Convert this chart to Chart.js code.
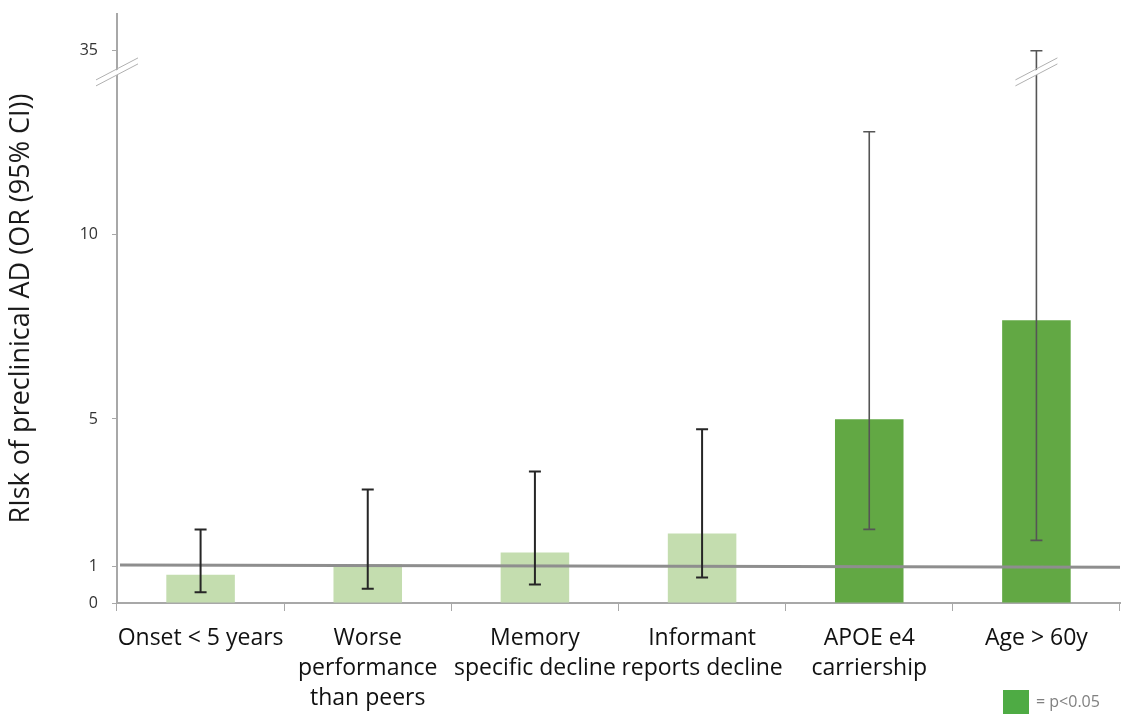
<!DOCTYPE html>
<html>
<head>
<meta charset="utf-8">
<script src="https://cdn.jsdelivr.net/npm/chart.js@4"></script>
<style>
  html, body { margin: 0; padding: 0; background: #fff; }
  #wrap { width: 1121px; height: 715px; }
</style>
</head>
<body>
<div id="wrap"><canvas id="orChart"></canvas></div>
<script>
// Data (odds ratios with 95% CI)
const categories = [
  "Onset < 5 years",
  ["Worse", "performance", "than peers"],
  ["Memory", "specific decline"],
  ["Informant", "reports decline"],
  ["APOE e4", "carriership"],
  "Age > 60y"
];
const oddsRatio = [0.77, 1.05, 1.37, 1.89, 4.99, 7.68];
const ciLow = [0.29, 0.39, 0.50, 0.69, 2.0, 1.70];
const ciHigh = [2.0, 3.08, 3.57, 4.72, 12.8, 35];
const significant = [false, false, false, false, true, true];

// y axis is broken: values above the break are drawn at the "35" tick
const tickValues = [0, 1, 5, 10, 15];
const tickLabels = ["0", "1", "5", "10", "35"];
const breakAt = 14.4;
const refLine = [1.03, 0.97]; // OR = 1 line, slightly tilted in the original

const lightGreen = "#c4ddaf";
const darkGreen = "#62a844";

function toAxis(v) {
  return v > breakAt ? 15 : v;
}

function drawBreak(ctx, x, y) {
  ctx.save();
  ctx.fillStyle = "#fff";
  ctx.beginPath();
  ctx.moveTo(x - 21, y + 8);
  ctx.lineTo(x + 21, y - 14);
  ctx.lineTo(x + 21, y - 9);
  ctx.lineTo(x - 21, y + 13);
  ctx.closePath();
  ctx.fill();
  ctx.strokeStyle = "#b0b0b0";
  ctx.lineWidth = 1;
  ctx.beginPath();
  ctx.moveTo(x - 21, y + 7);
  ctx.lineTo(x + 21, y - 15);
  ctx.moveTo(x - 21, y + 13);
  ctx.lineTo(x + 21, y - 9);
  ctx.stroke();
  ctx.restore();
}

const extras = {
  id: "extras",
  afterDatasetsDraw(chart) {
    const ctx = chart.ctx;
    const y = chart.scales.y;
    const area = chart.chartArea;

    // reference line at OR = 1
    ctx.save();
    ctx.strokeStyle = "#8e8e8e";
    ctx.lineWidth = 3;
    ctx.beginPath();
    ctx.moveTo(area.left + 3, y.getPixelForValue(refLine[0]));
    ctx.lineTo(area.right, y.getPixelForValue(refLine[1]));
    ctx.stroke();
    ctx.restore();

    // error bars
    const meta = chart.getDatasetMeta(0);
    meta.data.forEach((bar, i) => {
      const cx = bar.x;
      const top = y.getPixelForValue(toAxis(ciHigh[i]));
      const bot = y.getPixelForValue(toAxis(ciLow[i]));
      ctx.save();
      ctx.strokeStyle = significant[i] ? "#555" : "#262626";
      ctx.lineWidth = significant[i] ? 1.6 : 2;
      ctx.beginPath();
      ctx.moveTo(cx, top);
      ctx.lineTo(cx, bot);
      ctx.moveTo(cx - 6, top);
      ctx.lineTo(cx + 6, top);
      ctx.moveTo(cx - 6, bot);
      ctx.lineTo(cx + 6, bot);
      ctx.stroke();
      ctx.restore();
      if (ciHigh[i] > breakAt) {
        drawBreak(ctx, cx, y.getPixelForValue(breakAt));
      }
    });
  },
  afterDraw(chart) {
    const ctx = chart.ctx;
    const y = chart.scales.y;
    drawBreak(ctx, chart.chartArea.left, y.getPixelForValue(breakAt));

    // significance key, bottom right
    ctx.save();
    ctx.fillStyle = "#4eab44";
    ctx.fillRect(1003, 690, 26, 24);
    ctx.fillStyle = "#808080";
    ctx.font = "16px 'Open Sans'";
    ctx.textBaseline = "middle";
    ctx.fillText("= p<0.05", 1036, 702);
    ctx.restore();
  }
};

new Chart(document.getElementById("orChart"), {
  type: "bar",
  data: {
    labels: categories,
    datasets: [{
      data: oddsRatio,
      backgroundColor: significant.map(s => s ? darkGreen : lightGreen),
      borderWidth: 0,
      barPercentage: 0.41,
      categoryPercentage: 1
    }]
  },
  options: {
    responsive: true,
    maintainAspectRatio: false,
    animation: false,
    layout: { padding: { top: 14, right: 1, left: 0, bottom: 0 } },
    plugins: {
      legend: { display: false },
      tooltip: { enabled: false }
    },
    scales: {
      x: {
        grid: {
          display: true,
          offset: true,
          drawOnChartArea: false,
          drawTicks: true,
          tickLength: 8,
          color: "#a8a8a8"
        },
        border: { display: true, color: "#a8a8a8", width: 2 },
        ticks: {
          autoSkip: false,
          maxRotation: 0,
          minRotation: 0,
          padding: 13,
          color: "#111",
          font: { family: "'Open Sans'", size: 23, lineHeight: 1.3 }
        },
        afterFit(scale) { scale.height = 112; }
      },
      y: {
        min: 0,
        max: 16,
        afterBuildTicks(scale) {
          scale.ticks = tickValues.map(v => ({ value: v }));
        },
        grid: {
          display: true,
          drawOnChartArea: false,
          drawTicks: true,
          tickLength: 5,
          color: "#a8a8a8"
        },
        border: { display: true, color: "#a8a8a8", width: 2 },
        ticks: {
          padding: 14,
          color: "#333",
          font: { family: "'Open Sans'", size: 16 },
          callback: (value) => tickLabels[tickValues.indexOf(value)]
        },
        title: {
          display: true,
          text: "RIsk of preclinical AD (OR (95% CI))",
          color: "#1a1a1a",
          font: { family: "'Open Sans'", size: 27 },
          padding: { top: 5, bottom: 0 }
        },
        afterFit(scale) {
          scale.width = 117;
          scale.paddingTop = 0;
          scale.paddingBottom = 0;
        }
      }
    }
  },
  plugins: [extras]
});
</script>
</body>
</html>
